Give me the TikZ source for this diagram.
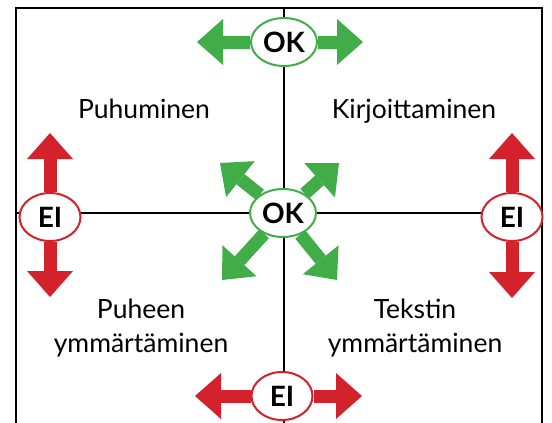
\documentclass[tikz,border=0pt]{standalone}
\usepackage{fontspec}
\setmainfont{Lato}
\usepackage{tikz}
\usetikzlibrary{arrows.meta, positioning, shapes.geometric, backgrounds}
\usepackage{xcolor}
\definecolor{okgreen}{HTML}{41AD49}
\definecolor{eired}{HTML}{D3222B}

\begin{document}
\begin{tikzpicture}[
  x=1pt, y=-1pt,
  badge/.style={ellipse, draw, fill=white, line width=2pt, inner sep=0pt, minimum height=48pt, font=\fontsize{28}{28}\selectfont\bfseries},
  okbadge/.style={badge, draw=okgreen, minimum width=66pt},
  eibadge/.style={badge, draw=eired, minimum width=61pt},
  skill/.style={align=center, anchor=base, font=\fontsize{26.5}{34}\selectfont},
  okarr/.style={-{Triangle[width=46pt, length=26pt, line width=0pt]}, line width=13pt, color=okgreen},
  eiarr/.style={-{Triangle[width=46pt, length=26pt, line width=0pt]}, line width=13pt, color=eired},
  axis/.style={line width=1.3pt, color=black}
]
\useasboundingbox (0,0) rectangle (552,423);
% badges
\node[okbadge] (okN) at (284,42) {OK};
\node[okbadge] (okC) at (283,213) {OK};
\node[eibadge] (eiW) at (50,217) {EI};
\node[eibadge] (eiE) at (512,217) {EI};
\node[eibadge] (eiS) at (282,396) {EI};
% arrow ends
\coordinate (okNw) at (197,42);
\coordinate (okNe) at (363,42);
\coordinate (okCnw) at (220,163);
\coordinate (okCne) at (339,163);
\coordinate (okCsw) at (222,280);
\coordinate (okCse) at (337,280);
\coordinate (eiWn) at (50,133);
\coordinate (eiWs) at (50,297);
\coordinate (eiEn) at (512,133);
\coordinate (eiEs) at (512,298);
\coordinate (eiSw) at (195,396);
\coordinate (eiSe) at (362,396);
% skills
\node[skill] (speak) at (144,118) {Puhuminen};
\node[skill] (write) at (414,118) {Kirjoittaminen};
\node[skill] (listen) at (141,352) {Puheen\\ymmärtäminen};
\node[skill] (read) at (415,352) {Tekstin\\ymmärtäminen};
\begin{scope}[on background layer]
\draw[axis] (16,423) -- (16,8) -- (542,8) -- (542,423);
\draw[axis] (284,8) -- (284,423);
\draw[axis] (16,213) -- (542,213);
\draw[okarr] (okN) -- (okNw);
\draw[okarr] (okN) -- (okNe);
\draw[okarr] (okC) -- (okCnw);
\draw[okarr] (okC) -- (okCne);
\draw[okarr] (okC) -- (okCsw);
\draw[okarr] (okC) -- (okCse);
\draw[eiarr] (eiW) -- (eiWn);
\draw[eiarr] (eiW) -- (eiWs);
\draw[eiarr] (eiE) -- (eiEn);
\draw[eiarr] (eiE) -- (eiEs);
\draw[eiarr] (eiS) -- (eiSw);
\draw[eiarr] (eiS) -- (eiSe);
\end{scope}
\end{tikzpicture}
\end{document}
